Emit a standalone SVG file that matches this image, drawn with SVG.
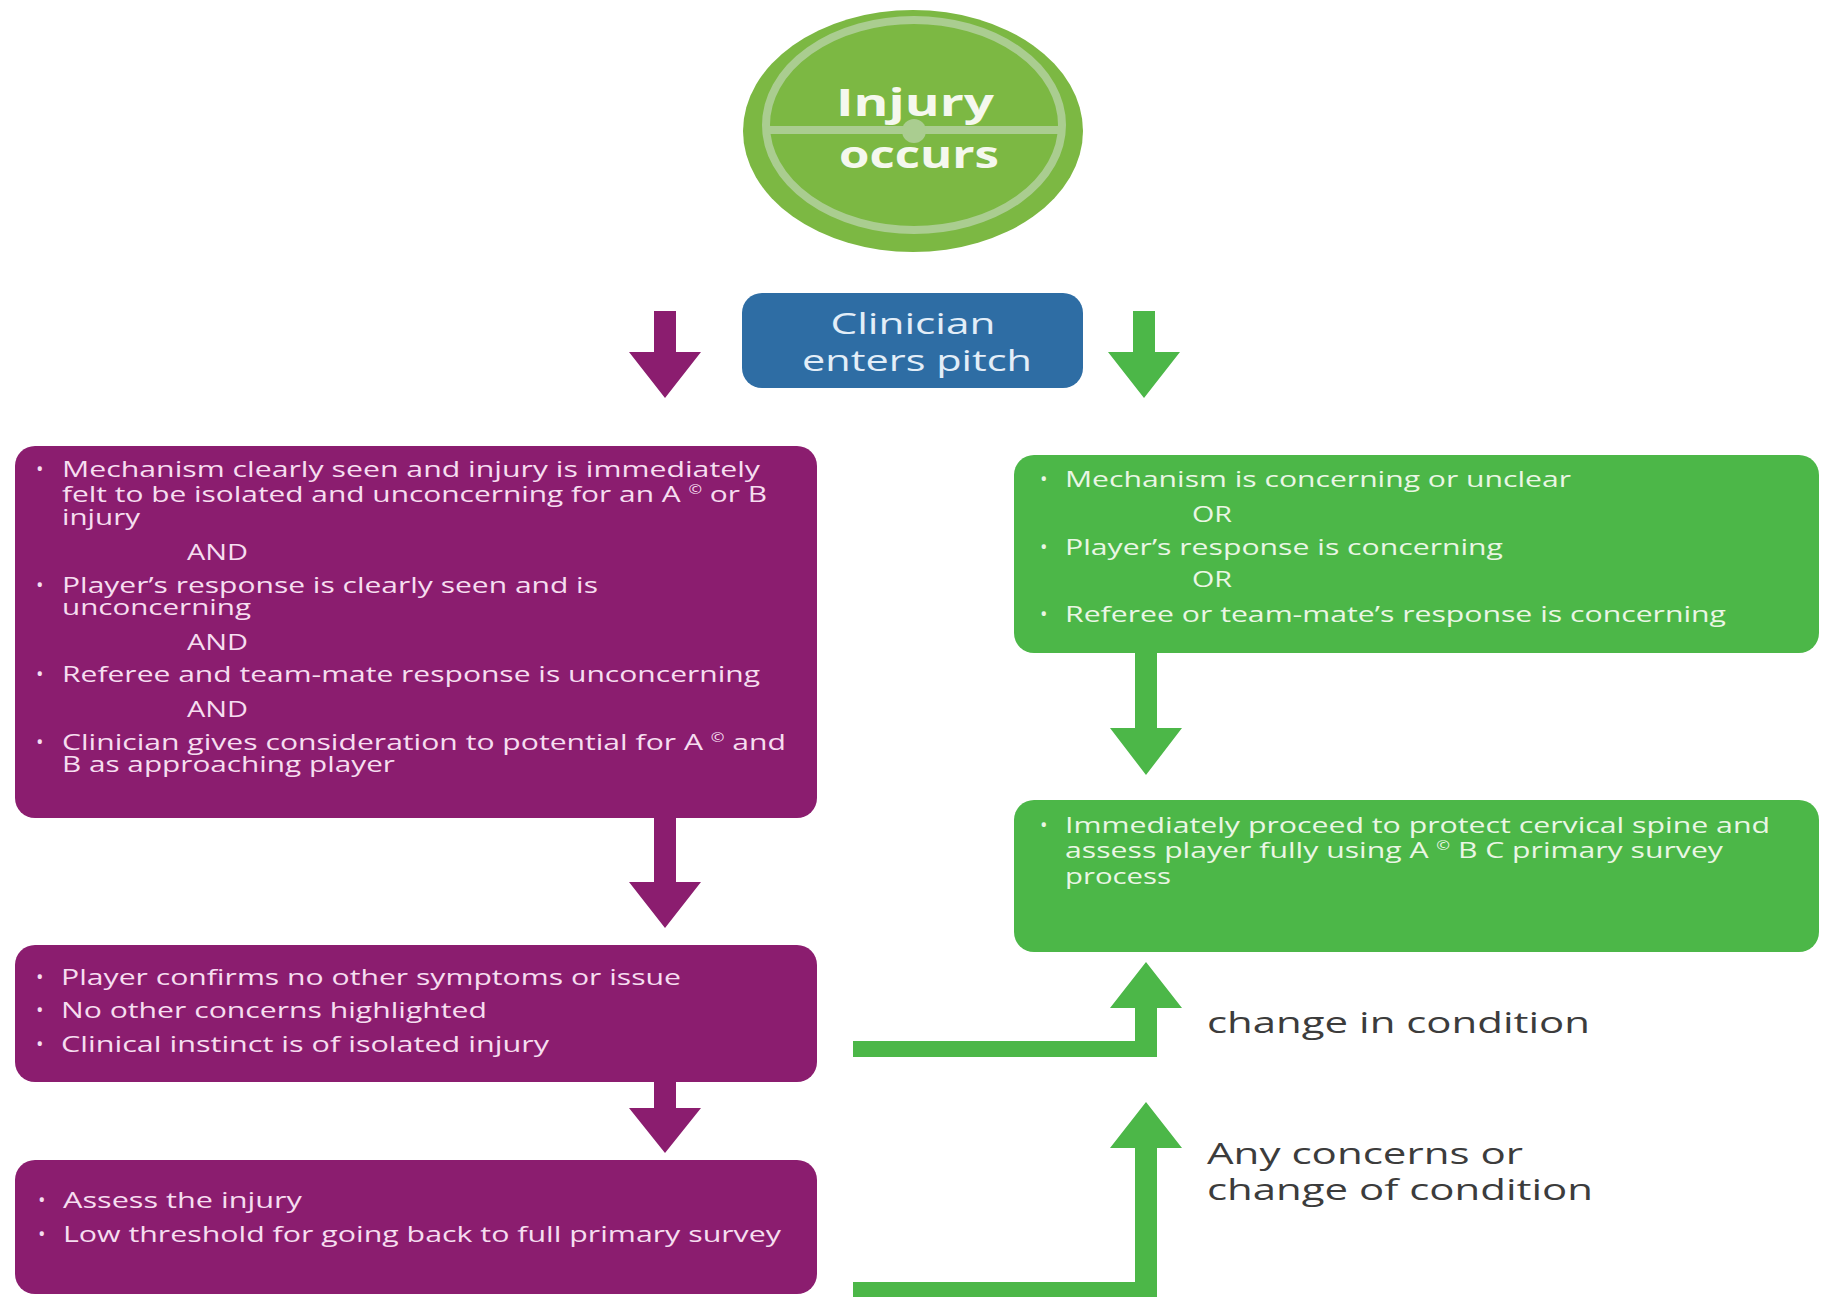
<svg xmlns="http://www.w3.org/2000/svg" width="1834" height="1297" viewBox="0 0 1834 1297">
<style>
text{font-family:"Open Sans","Noto Sans","Liberation Sans",sans-serif}
.pbox{fill:#8b1d6f}
.gbox{fill:#4cb748}
.pt{fill:#f6ddf0;font-size:22px}
.gt{fill:#eaf6e4;font-size:22px}
.bul{font-size:20px}
.lbl{fill:#3c3c3c;font-size:30px}
.sup{font-size:12px}
.parr{fill:#8b1d6f}
.garr{fill:#4cb748}
</style>
<rect width="1834" height="1297" fill="#ffffff"/>

<g id="injury-occurs">
<ellipse cx="913" cy="131" rx="170" ry="121" fill="#7cb843"/>
<ellipse cx="914" cy="125" rx="148" ry="105" fill="none" stroke="#aacd90" stroke-width="8"/>
<line x1="766" y1="130" x2="1062" y2="130" stroke="#aacd90" stroke-width="8"/>
<circle cx="914" cy="131" r="12" fill="#aacd90"/>
<text x="915" y="116" text-anchor="middle" font-weight="bold" font-size="38" fill="#f5f8ee" textLength="158" lengthAdjust="spacingAndGlyphs">Injury</text>
<text x="919" y="168" text-anchor="middle" font-weight="bold" font-size="38" fill="#f5f8ee" textLength="160" lengthAdjust="spacingAndGlyphs">occurs</text>
</g>

<g id="clinician-enters">
<rect x="742" y="293" width="341" height="95" rx="20" fill="#2e6da4"/>
<text x="913" y="334" text-anchor="middle" font-size="29" fill="#e3eef8" textLength="165" lengthAdjust="spacingAndGlyphs">Clinician</text>
<text x="917" y="371" text-anchor="middle" font-size="29" fill="#e3eef8" textLength="230" lengthAdjust="spacingAndGlyphs">enters pitch</text>
</g>

<g id="unconcerning-box">
<rect class="pbox" x="15" y="446" width="802" height="372" rx="20"/>
<text class="pt bul" x="36" y="476">•</text>
<text class="pt" x="62" y="477" textLength="698" lengthAdjust="spacingAndGlyphs">Mechanism clearly seen and injury is immediately</text>
<text class="pt" x="62" y="502" textLength="705" lengthAdjust="spacingAndGlyphs">felt to be isolated and unconcerning for an A <tspan class="sup" dy="-8">©</tspan><tspan dy="8"> or B</tspan></text>
<text class="pt" x="62" y="525" textLength="78" lengthAdjust="spacingAndGlyphs">injury</text>
<text class="pt" x="187" y="560" textLength="61" lengthAdjust="spacingAndGlyphs">AND</text>
<text class="pt bul" x="36" y="592">•</text>
<text class="pt" x="62" y="593" textLength="536" lengthAdjust="spacingAndGlyphs">Player’s response is clearly seen and is</text>
<text class="pt" x="62" y="615" textLength="189" lengthAdjust="spacingAndGlyphs">unconcerning</text>
<text class="pt" x="187" y="650" textLength="61" lengthAdjust="spacingAndGlyphs">AND</text>
<text class="pt bul" x="36" y="681">•</text>
<text class="pt" x="62" y="682" textLength="698" lengthAdjust="spacingAndGlyphs">Referee and team-mate response is unconcerning</text>
<text class="pt" x="187" y="717" textLength="61" lengthAdjust="spacingAndGlyphs">AND</text>
<text class="pt bul" x="36" y="749">•</text>
<text class="pt" x="62" y="750" textLength="724" lengthAdjust="spacingAndGlyphs">Clinician gives consideration to potential for A <tspan class="sup" dy="-8">©</tspan><tspan dy="8"> and</tspan></text>
<text class="pt" x="62" y="772" textLength="333" lengthAdjust="spacingAndGlyphs">B as approaching player</text>
</g>

<g id="confirms-box">
<rect class="pbox" x="15" y="945" width="802" height="137" rx="20"/>
<text class="pt bul" x="36" y="984">•</text>
<text class="pt" x="61" y="985" textLength="620" lengthAdjust="spacingAndGlyphs">Player confirms no other symptoms or issue</text>
<text class="pt bul" x="36" y="1017">•</text>
<text class="pt" x="61" y="1018" textLength="426" lengthAdjust="spacingAndGlyphs">No other concerns highlighted</text>
<text class="pt bul" x="36" y="1051">•</text>
<text class="pt" x="61" y="1052" textLength="488" lengthAdjust="spacingAndGlyphs">Clinical instinct is of isolated injury</text>
</g>

<g id="assess-box">
<rect class="pbox" x="15" y="1160" width="802" height="134" rx="20"/>
<text class="pt bul" x="38" y="1207">•</text>
<text class="pt" x="63" y="1208" textLength="239" lengthAdjust="spacingAndGlyphs">Assess the injury</text>
<text class="pt bul" x="38" y="1241">•</text>
<text class="pt" x="63" y="1242" textLength="718" lengthAdjust="spacingAndGlyphs">Low threshold for going back to full primary survey</text>
</g>

<g id="concerning-box">
<rect class="gbox" x="1014" y="455" width="805" height="198" rx="20"/>
<text class="gt bul" x="1040" y="486">•</text>
<text class="gt" x="1065" y="487" textLength="506" lengthAdjust="spacingAndGlyphs">Mechanism is concerning or unclear</text>
<text class="gt" x="1192" y="522" textLength="40" lengthAdjust="spacingAndGlyphs">OR</text>
<text class="gt bul" x="1040" y="554">•</text>
<text class="gt" x="1065" y="555" textLength="438" lengthAdjust="spacingAndGlyphs">Player’s response is concerning</text>
<text class="gt" x="1192" y="587" textLength="40" lengthAdjust="spacingAndGlyphs">OR</text>
<text class="gt bul" x="1040" y="621">•</text>
<text class="gt" x="1065" y="622" textLength="661" lengthAdjust="spacingAndGlyphs">Referee or team-mate’s response is concerning</text>
</g>

<g id="primary-survey-box">
<rect class="gbox" x="1014" y="800" width="805" height="152" rx="20"/>
<text class="gt bul" x="1040" y="832">•</text>
<text class="gt" x="1065" y="833" textLength="705" lengthAdjust="spacingAndGlyphs">Immediately proceed to protect cervical spine and</text>
<text class="gt" x="1065" y="858" textLength="658" lengthAdjust="spacingAndGlyphs">assess player fully using A <tspan class="sup" dy="-8">©</tspan><tspan dy="8"> B C primary survey</tspan></text>
<text class="gt" x="1065" y="884" textLength="106" lengthAdjust="spacingAndGlyphs">process</text>
</g>

<g id="connectors">
<polygon class="parr" points="654,311 676,311 676,352 701,352 665,398 629,352 654,352"/>
<polygon class="garr" points="1133,311 1155,311 1155,352 1180,352 1144,398 1108,352 1133,352"/>
<polygon class="garr" points="1135,653 1157,653 1157,728 1182,728 1146,775 1110,728 1135,728"/>
<polygon class="parr" points="654,818 676,818 676,882 701,882 665,928 629,882 654,882"/>
<polygon class="parr" points="654,1082 676,1082 676,1108 701,1108 665,1153 629,1108 654,1108"/>
<polygon class="garr" points="853,1041 1135,1041 1135,1008 1110,1008 1146,962 1182,1008 1157,1008 1157,1057 853,1057"/>
<polygon class="garr" points="853,1282 1135,1282 1135,1148 1110,1148 1146,1102 1182,1148 1157,1148 1157,1298 853,1298"/>
</g>

<g id="labels">
<text class="lbl" x="1207" y="1033" textLength="383" lengthAdjust="spacingAndGlyphs">change in condition</text>
<text class="lbl" x="1207" y="1164" textLength="316" lengthAdjust="spacingAndGlyphs">Any concerns or</text>
<text class="lbl" x="1207" y="1200" textLength="386" lengthAdjust="spacingAndGlyphs">change of condition</text>
</g>
</svg>
